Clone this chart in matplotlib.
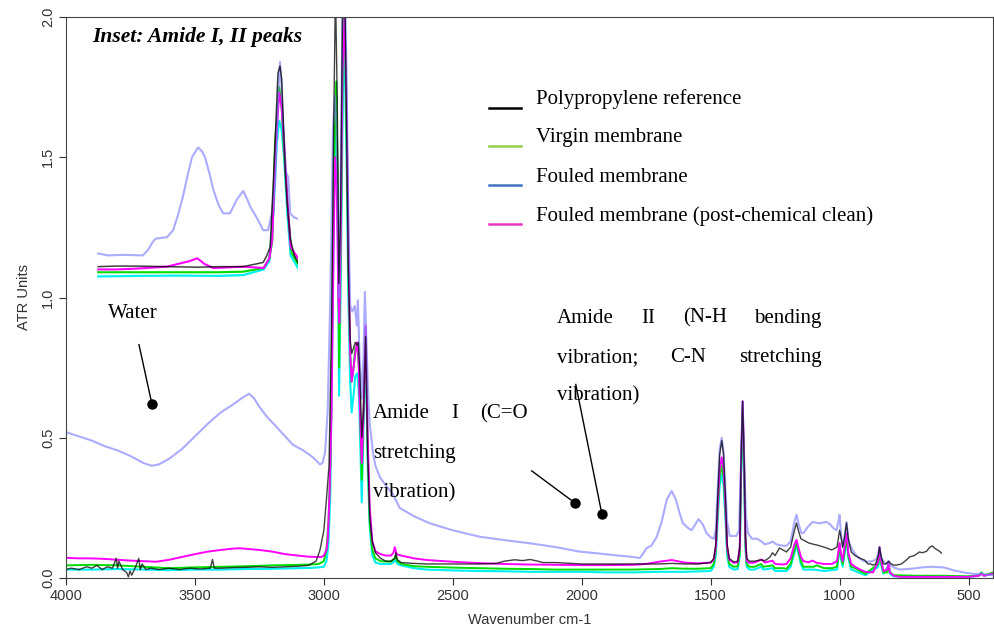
import numpy as np
import matplotlib
matplotlib.use("Agg")
import matplotlib.pyplot as plt

# ---- main spectra (wavenumber cm-1, ATR units) ----
pp_wn = [4000, 3980, 3950, 3920, 3900, 3880, 3860, 3840, 3820, 3805, 3800, 3795, 3780, 3765, 3758,
         3752, 3745, 3730, 3718, 3712, 3705, 3690, 3670, 3640, 3600, 3560, 3520, 3480, 3440, 3432,
         3425, 3400, 3350, 3300, 3250, 3200, 3150, 3100, 3060, 3030, 3015, 3000, 2990, 2980, 2970,
         2962, 2955, 2948, 2942, 2935, 2928, 2920, 2912, 2905, 2898, 2892, 2885, 2878, 2872, 2866,
         2860, 2853, 2846, 2838, 2830, 2822, 2812, 2800, 2780, 2760, 2740, 2725, 2721, 2715, 2700,
         2650, 2600, 2500, 2400, 2330, 2300, 2260, 2230, 2200, 2170, 2150, 2100, 2000, 1900, 1800,
         1750, 1700, 1650, 1600, 1550, 1500, 1488, 1480, 1472, 1465, 1457, 1450, 1443, 1436, 1428,
         1410, 1395, 1387, 1382, 1376, 1370, 1365, 1360, 1350, 1330, 1305, 1295, 1285, 1270, 1260,
         1250, 1233, 1220, 1206, 1190, 1175, 1167, 1160, 1150, 1140, 1120, 1100, 1089, 1060, 1030,
         1010, 1000, 995, 988, 980, 973, 966, 955, 940, 920, 903, 890, 880, 870, 860, 850, 845, 840,
         830, 820, 810, 800, 790, 779, 760, 740, 729, 710, 690, 680, 663, 650, 640, 630, 620, 612, 605]
pp_val = [.03, .035, .03, .04, .035, .045, .03, .04, .035, .07, .035, .06, .03, .02, .004,
          .025, .01, .04, .07, .03, .05, .03, .035, .03, .035, .03, .035, .032, .035, .066,
          .035, .035, .037, .038, .04, .038, .04, .042, .045, .06, .1, .17, .28, .4, .9,
          1.6, 2.1, 1.7, 1.05, 1.3, 2.0, 2.2, 1.6, 1.1, .85, .8, .82, .84, .83, .84,
          .72, .5, .6, .86, .45, .22, .13, .09, .07, .06, .06, .07, .09, .065, .055,
          .052, .05, .05, .05, .052, .06, .065, .062, .066, .06, .055, .055, .05, .05, .05,
          .05, .05, .052, .05, .05, .055, .07, .12, .3, .44, .49, .44, .3, .12, .07,
          .057, .06, .11, .42, .63, .42, .15, .07, .06, .06, .065, .062, .064, .075, .09,
          .08, .107, .1, .093, .11, .17, .196, .17, .14, .135, .125, .12, .118, .11, .1,
          .11, .17, .15, .11, .15, .196, .14, .093, .08, .07, .064, .05, .05, .046, .05, .08, .11, .08,
          .05, .05, .06, .05, .046, .046, .05, .065, .075, .08, .093, .09, .095, .11, .114, .105, .1, .095, .089]

virgin_wn = [4000, 3900, 3800, 3700, 3600, 3500, 3400, 3300, 3200, 3100, 3050, 3020, 3000, 2990, 2982,
             2975, 2968, 2960, 2952, 2946, 2941, 2934, 2926, 2920, 2912, 2905, 2898, 2892, 2885, 2878,
             2870, 2864, 2858, 2853, 2846, 2838, 2830, 2822, 2812, 2800, 2780, 2740, 2725, 2721, 2715,
             2700, 2650, 2600, 2500, 2400, 2300, 2200, 2100, 2000, 1900, 1800, 1700, 1650, 1600, 1550,
             1500, 1488, 1480, 1472, 1465, 1457, 1450, 1443, 1436, 1428, 1410, 1395, 1387, 1382, 1376,
             1370, 1365, 1360, 1350, 1330, 1305, 1295, 1260, 1250, 1220, 1206, 1190, 1175, 1167, 1160,
             1150, 1140, 1100, 1089, 1060, 1030, 1010, 1000, 995, 988, 980, 973, 966, 955, 940, 900, 850,
             845, 840, 830, 815, 810, 805, 790, 700, 600, 500, 460, 450, 440, 420, 405]
virgin_val = [.045, .047, .045, .04, .035, .038, .04, .042, .045, .047, .048, .05, .06, .1, .2,
              .4, .9, 1.5, 1.77, 1.4, .75, 1.2, 1.9, 2.05, 1.6, 1.1, .8, .7, .75, .82,
              .83, .75, .55, .35, .6, .89, .45, .2, .1, .07, .06, .058, .07, .078, .06,
              .05, .042, .04, .037, .035, .033, .032, .03, .03, .03, .03, .032, .035, .033, .033,
              .035, .05, .1, .25, .36, .40, .36, .25, .1, .05, .04, .042, .09, .38, .6,
              .38, .12, .05, .04, .04, .05, .04, .045, .035, .035, .033, .05, .1, .125, .1,
              .06, .04, .04, .045, .035, .035, .04, .12, .08, .05, .1, .15, .08, .04, .035, .015, .05,
              .1, .06, .02, .02, .05, .02, .01, .008, .008, .006, .01, .02, .01, .015, .02]

fouled_wn = [4000, 3950, 3900, 3850, 3800, 3750, 3700, 3667, 3640, 3600, 3550, 3500, 3450, 3400, 3350,
             3320, 3290, 3270, 3250, 3221, 3180, 3150, 3120, 3080, 3042, 3015, 3005, 2995, 2985, 2975,
             2965, 2957, 2950, 2945, 2941, 2935, 2928, 2920, 2912, 2905, 2898, 2890, 2880, 2872, 2868,
             2862, 2853, 2846, 2841, 2835, 2828, 2822, 2810, 2800, 2783, 2760, 2733, 2706, 2650, 2589,
             2500, 2395, 2300, 2202, 2100, 2008, 1940, 1880, 1800, 1775, 1760, 1748, 1730, 1709, 1690,
             1670, 1651, 1635, 1620, 1608, 1590, 1574, 1560, 1547, 1530, 1516, 1500, 1488, 1480, 1472,
             1465, 1457, 1450, 1443, 1436, 1426, 1400, 1390, 1383, 1376, 1369, 1363, 1355, 1340, 1320,
             1302, 1290, 1270, 1260, 1245, 1220, 1206, 1190, 1175, 1167, 1158, 1148, 1140, 1125, 1105,
             1080, 1050, 1035, 1027, 1012, 1005, 1000, 994, 988, 980, 973, 965, 950, 930, 910, 895, 870,
             855, 845, 838, 825, 815, 810, 802, 790, 767, 720, 680, 640, 600, 585, 560, 530, 508, 470,
             450, 430, 407]
fouled_val = [.52, .505, .49, .47, .455, .435, .41, .40, .405, .425, .46, .505, .55, .59, .62,
              .64, .657, .64, .61, .575, .535, .505, .475, .455, .43, .405, .41, .45, .6, 1.0,
              1.6, 1.72, 1.6, 1.3, 1.0, 1.4, 2.0, 2.2, 1.8, 1.3, .97, .95, .97, .9, .99,
              .8, .64, .8, 1.02, .85, .65, .55, .45, .40, .36, .33, .30, .25, .22, .195,
              .17, .147, .135, .124, .11, .094, .088, .082, .075, .071, .09, .107, .115, .147, .2,
              .28, .31, .28, .23, .196, .18, .17, .19, .21, .19, .16, .145, .14, .17, .33,
              .46, .50, .45, .32, .2, .15, .15, .17, .38, .63, .38, .22, .16, .14, .14,
              .13, .12, .125, .13, .12, .115, .115, .13, .2, .225, .19, .16, .16, .18, .2,
              .195, .2, .19, .18, .17, .2, .225, .15, .11, .15, .2, .13, .1, .075, .062, .058, .06,
              .07, .11, .07, .055, .05, .06, .045, .038, .03, .033, .038, .04, .038, .035, .028, .022, .018, .014,
              .016, .012, .01]

clean_wn = [4000, 3950, 3900, 3850, 3800, 3750, 3700, 3650, 3600, 3550, 3500, 3450, 3400, 3350, 3326,
            3300, 3250, 3200, 3150, 3100, 3060, 3030, 3010, 3000, 2990, 2985, 2978, 2970, 2962, 2956,
            2950, 2944, 2940, 2935, 2928, 2920, 2912, 2905, 2898, 2892, 2885, 2878, 2872, 2866, 2860,
            2853, 2846, 2838, 2830, 2822, 2812, 2800, 2780, 2760, 2740, 2730, 2725, 2718, 2700, 2650,
            2600, 2500, 2400, 2300, 2200, 2100, 2000, 1900, 1800, 1750, 1700, 1651, 1600, 1550, 1500,
            1488, 1480, 1472, 1465, 1457, 1450, 1443, 1436, 1428, 1410, 1395, 1387, 1382, 1376, 1370,
            1365, 1360, 1350, 1330, 1302, 1290, 1260, 1250, 1220, 1206, 1190, 1175, 1167, 1160, 1150,
            1140, 1120, 1105, 1089, 1060, 1030, 1010, 1000, 995, 988, 980, 973, 966, 955, 940, 920, 900,
            870, 850, 845, 840, 830, 815, 810, 805, 790, 767, 700, 600, 500, 460, 450, 440, 420, 405]
clean_val = [.072, .07, .07, .068, .065, .062, .06, .058, .065, .075, .085, .094, .1, .105, .106,
             .104, .1, .094, .085, .08, .076, .075, .075, .08, .1, .135, .3, .6, 1.2, 1.5,
             1.4, 1.0, .91, 1.2, 1.8, 2.0, 1.7, 1.2, .8, .7, .75, .8, .84, .8, .6,
             .41, .6, .9, .5, .25, .13, .095, .085, .08, .08, .09, .11, .085, .08, .07,
             .064, .058, .053, .05, .048, .047, .046, .046, .047, .05, .058, .064, .055, .052, .055,
             .065, .11, .27, .39, .43, .39, .27, .11, .065, .054, .056, .11, .42, .63, .42,
             .14, .06, .054, .055, .066, .055, .062, .05, .048, .05, .07, .12, .136, .11, .075,
             .06, .056, .062, .054, .05, .05, .06, .125, .09, .06, .12, .16, .09, .05, .04, .03, .022,
             .02, .06, .11, .07, .025, .03, .055, .02, .008, .004, .004, .004, .004, .008, .015, .008, .012, .016]

other_wn = [4000, 3900, 3800, 3700, 3600, 3500, 3400, 3300, 3200, 3100, 3050, 3020, 3000, 2990, 2982,
            2975, 2968, 2960, 2952, 2946, 2941, 2934, 2926, 2920, 2912, 2905, 2898, 2892, 2885, 2878,
            2870, 2864, 2858, 2853, 2846, 2838, 2830, 2822, 2812, 2800, 2780, 2740, 2725, 2721, 2715,
            2700, 2650, 2600, 2500, 2400, 2300, 2200, 2000, 1900, 1800, 1700, 1600, 1500, 1488, 1480,
            1472, 1465, 1457, 1450, 1443, 1436, 1428, 1410, 1395, 1387, 1382, 1376, 1370, 1365, 1360,
            1350, 1330, 1305, 1295, 1260, 1250, 1206, 1190, 1175, 1167, 1160, 1150, 1140, 1100, 1060,
            1010, 1000, 995, 988, 980, 973, 966, 955, 940, 900, 850, 845, 840, 830, 810, 805, 790, 700,
            600, 500, 460, 450, 440, 420, 405]
other_val = [.03, .03, .032, .03, .028, .03, .03, .032, .033, .035, .036, .038, .04, .06, .12,
             .3, .8, 1.4, 1.62, 1.3, .65, 1.1, 1.75, 1.9, 1.5, 1.0, .7, .59, .65, .72,
             .73, .65, .45, .27, .55, .84, .4, .18, .08, .055, .05, .05, .06, .065, .05,
             .045, .035, .03, .027, .025, .024, .022, .022, .02, .02, .022, .022, .025, .04, .08,
             .22, .33, .37, .33, .22, .08, .04, .03, .032, .08, .36, .58, .36, .1, .04,
             .03, .03, .04, .03, .035, .025, .025, .04, .09, .115, .09, .05, .03, .03, .025,
             .03, .11, .07, .04, .09, .14, .07, .03, .025, .01, .04, .09, .05, .015, .045, .015, .006, .005,
             .005, .004, .008, .016, .008, .012, .015]

# ---- inset: Amide I / II region, drawn at offset height ----
ins_fouled_wn = [1894, 1870, 1830, 1785, 1772, 1760, 1753, 1726, 1711, 1700, 1687, 1675, 1665, 1650, 1640,
                 1633, 1622, 1613, 1600, 1589, 1572, 1562, 1555, 1540, 1530, 1523, 1505, 1491, 1479, 1470,
                 1462, 1455, 1450, 1446, 1442, 1436, 1430, 1425, 1415, 1406]
ins_fouled_val = [1.157, 1.15, 1.152, 1.15, 1.17, 1.2, 1.21, 1.215, 1.24, 1.29, 1.36, 1.44, 1.5, 1.535, 1.52,
                  1.5, 1.44, 1.385, 1.33, 1.3, 1.3, 1.33, 1.35, 1.38, 1.35, 1.325, 1.28, 1.24, 1.24, 1.3,
                  1.41, 1.7, 1.84, 1.75, 1.61, 1.45, 1.43, 1.3, 1.285, 1.28]
ins_pp_wn = [1894, 1850, 1800, 1726, 1650, 1600, 1540, 1491, 1482, 1474, 1466, 1460, 1455, 1450, 1446,
             1442, 1437, 1432, 1425, 1415, 1406]
ins_pp_val = [1.11, 1.112, 1.112, 1.11, 1.108, 1.11, 1.11, 1.125, 1.15, 1.18, 1.42, 1.62, 1.8, 1.825, 1.78,
              1.63, 1.45, 1.33, 1.21, 1.15, 1.125]
ins_clean_wn = [1894, 1850, 1800, 1726, 1670, 1652, 1635, 1613, 1540, 1490, 1476, 1469, 1460, 1452, 1446,
                1440, 1432, 1424, 1406]
ins_clean_val = [1.10, 1.10, 1.103, 1.11, 1.13, 1.14, 1.12, 1.105, 1.11, 1.105, 1.14, 1.21, 1.55, 1.73, 1.68,
                 1.55, 1.35, 1.18, 1.14]
ins_virgin_wn = [1894, 1800, 1700, 1600, 1540, 1490, 1476, 1469, 1462, 1452, 1446, 1440, 1430, 1422, 1406]
ins_virgin_val = [1.09, 1.09, 1.09, 1.09, 1.092, 1.105, 1.14, 1.2, 1.55, 1.75, 1.68, 1.52, 1.3, 1.16, 1.12]
ins_other_wn = [1894, 1800, 1700, 1600, 1540, 1490, 1476, 1466, 1458, 1452, 1446, 1440, 1432, 1424, 1406]
ins_other_val = [1.075, 1.077, 1.078, 1.077, 1.08, 1.1, 1.13, 1.3, 1.55, 1.63, 1.6, 1.5, 1.3, 1.15, 1.105]

legend_labels = ["Polypropylene reference", "Virgin membrane", "Fouled membrane",
                 "Fouled membrane (post-chemical clean)"]
legend_colors = ["#000000", "#92d050", "#4472c4", "#e838c0"]

C_PP = "#000000"
C_VIRGIN = "#00dd00"
C_FOULED = "#7f7fff"
C_CLEAN = "#ff00ff"
C_OTHER = "#00f0f0"

serif = ["Liberation Serif", "DejaVu Serif"]
sans = ["Liberation Sans", "DejaVu Sans"]
tick_col = "#333333"
FS = 15

fig = plt.figure(figsize=(9.95, 6.32), dpi=100)
ax = fig.add_axes([66/995, 54/632, 927/995, 561/632])


def draw(a, series):
    for wn, val, col, lw, al in series:
        a.plot(wn, val, color=col, lw=lw, alpha=al, solid_joinstyle="round")


draw(ax, [(other_wn, other_val, C_OTHER, 1.5, 1.0),
          (virgin_wn, virgin_val, C_VIRGIN, 1.4, 1.0),
          (clean_wn, clean_val, C_CLEAN, 1.4, 1.0),
          (fouled_wn, fouled_val, C_FOULED, 1.5, 0.65),
          (pp_wn, pp_val, C_PP, 1.0, 0.75)])

ax.set_xlim(4000, 405)
ax.set_ylim(0, 2.0)
ax.set_xticks([4000, 3500, 3000, 2500, 2000, 1500, 1000, 500])
ax.set_yticks([0.0, 0.5, 1.0, 1.5, 2.0])
ax.set_yticklabels(["0.0", "0.5", "1.0", "1.5", "2.0"], rotation=90, va="center")
ax.tick_params(direction="out", length=5, width=0.8, color="#333333",
               labelsize=10.5, labelcolor=tick_col, pad=3)
for lab in ax.get_xticklabels() + ax.get_yticklabels():
    lab.set_family(sans)
for s in ax.spines.values():
    s.set_color("#444444")
    s.set_linewidth(0.8)
ax.set_xlabel("Wavenumber cm-1", fontsize=10.5, color=tick_col, labelpad=7, family=sans)
ax.set_ylabel("ATR Units", fontsize=10.5, color=tick_col, labelpad=7, family=sans)

# inset curves (no frame)
ins = ax.inset_axes([31/927, 0, 201/927, 1])
draw(ins, [(ins_other_wn, ins_other_val, C_OTHER, 1.6, 1.0),
           (ins_virgin_wn, ins_virgin_val, C_VIRGIN, 1.5, 1.0),
           (ins_clean_wn, ins_clean_val, C_CLEAN, 1.5, 1.0),
           (ins_fouled_wn, ins_fouled_val, C_FOULED, 1.5, 0.65),
           (ins_pp_wn, ins_pp_val, C_PP, 1.1, 0.75)])
ins.set_xlim(1897, 1406)
ins.set_ylim(0, 2.0)
ins.axis("off")

ax.text(3899, 1.93, "Inset: Amide I, II peaks", family=serif, fontsize=15.5,
        fontweight="bold", fontstyle="italic", va="center", ha="left")

# legend drawn by hand (line sits below its label)
leg_line_y = [1.675, 1.539, 1.40, 1.261]
leg_text_y = [1.708, 1.569, 1.429, 1.29]
for lab, col, ly, ty in zip(legend_labels, legend_colors, leg_line_y, leg_text_y):
    ax.plot([2360, 2236], [ly, ly], color=col, lw=1.8)
    ax.text(2178, ty, lab, family=serif, fontsize=FS, va="center", ha="left")

renderer = fig.canvas.get_renderer()


def justified(words, x0, x1, y):
    texts = [ax.text(x0, y, w, family=serif, fontsize=FS, va="center", ha="left") for w in words]
    if len(words) == 1:
        return
    widths = [t.get_window_extent(renderer).width for t in texts]
    p0 = ax.transData.transform((x0, y))
    p1 = ax.transData.transform((x1, y))
    gap = (p1[0] - p0[0] - sum(widths)) / (len(words) - 1)
    xpix = p0[0]
    inv = ax.transData.inverted()
    for t, w in zip(texts, widths):
        t.set_x(inv.transform((xpix, p0[1]))[0])
        xpix += w + gap


ax.text(3837, 0.944, "Water", family=serif, fontsize=FS, va="center", ha="left")
ax.plot([3717, 3667], [0.832, 0.621], color="black", lw=1)
ax.plot(3667, 0.621, "o", color="black", ms=6.5)

justified(["Amide", "I", "(C=O"], 2810, 2209, 0.586)
justified(["stretching"], 2810, 2209, 0.444)
justified(["vibration)"], 2810, 2209, 0.304)
ax.plot([2194, 2027], [0.382, 0.268], color="black", lw=1)
ax.plot(2027, 0.268, "o", color="black", ms=6.5)

justified(["Amide", "II", "(N-H", "bending"], 2097, 1070, 0.926)
justified(["vibration;", "C-N", "stretching"], 2097, 1070, 0.786)
justified(["vibration)"], 2097, 1070, 0.651)
ax.plot([2023, 1922], [0.69, 0.229], color="black", lw=1)
ax.plot(1922, 0.229, "o", color="black", ms=6.5)

fig.savefig("out.png", dpi=100)
